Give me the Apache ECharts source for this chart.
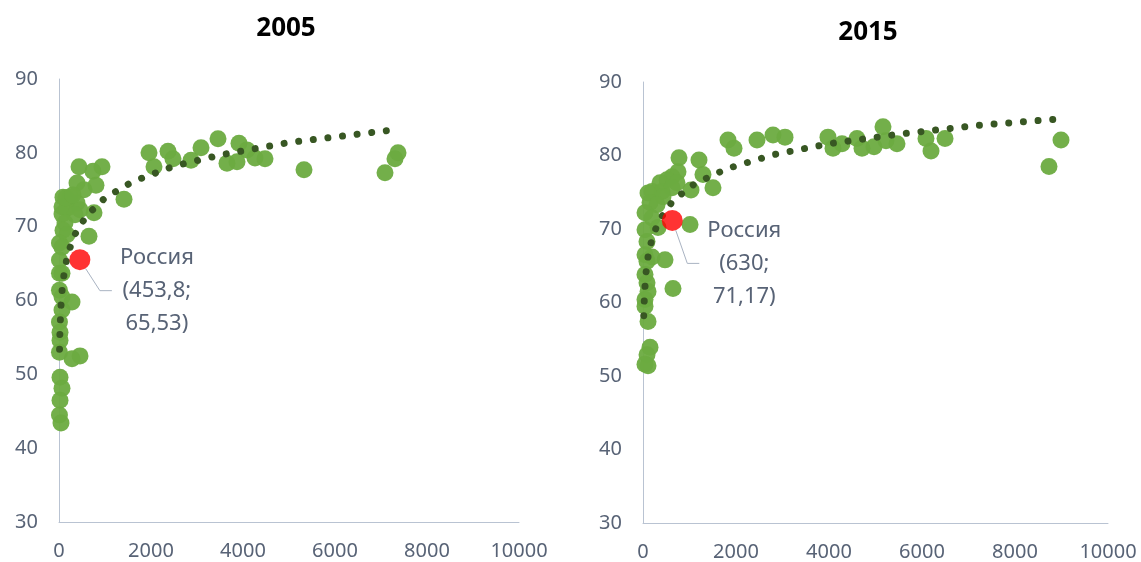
<!DOCTYPE html>
<html>
<head>
<meta charset="utf-8">
<script src="https://cdn.jsdelivr.net/npm/echarts@6/dist/echarts.min.js"></script>
<style>
  html, body { margin: 0; padding: 0; background: #fff; }
  #chart { width: 1141px; height: 562px; }
</style>
</head>
<body>
<div id="chart"></div>
<script>
// 2005: ВВП на душу (x) и ожидаемая продолжительность жизни (y)
const gdp2005 = [3457, 1957, 2370, 2478, 2065, 3087, 2870, 3652, 3913, 4087, 3870, 4261, 4478, 5326,
  1413, 435, 739, 935, 804, 391, 543, 761, 652, 283, 457, 283, 7087, 7304, 7370,
  87, 239, 65, 65, 174, 391, 457, 348, 130, 87, 174, 10, 65, 10, 65, 10, 10, 65, 65,
  10, 22, 22, 10, 22, 65, 22, 10, 43, 150, 300]
const life2005 = [81.9, 80.0, 80.2, 79.2, 78.1, 80.7, 79.0, 78.6, 81.3, 80.4, 78.8, 79.3, 79.2, 77.7,
  73.7, 78.1, 77.5, 78.1, 75.6, 75.9, 75.0, 71.9, 68.7, 59.8, 52.5, 52.1, 77.3, 79.2, 80.0,
  74.0, 74.0, 72.7, 71.7, 72.5, 73.2, 72.3, 71.6, 70.5, 69.5, 68.9, 67.8, 67.2, 65.5, 63.7, 63.7, 61.4, 60.5, 58.7,
  57.1, 55.7, 54.6, 53.0, 49.6, 48.1, 46.5, 44.5, 43.4, 73.9, 74.3]
const russia2005 = [453.8, 65.53]
const trendGdp2005 = [12, 20, 40, 70, 120, 200, 350, 600, 1000, 1600, 2500, 3500, 5000, 7130]
const trendLife2005 = [53.4, 55.8, 59.0, 61.6, 64.1, 66.5, 69.0, 71.5, 73.9, 76.1, 78.2, 79.7, 81.4, 83.0]

// 2015
const gdp2015 = [1828, 1957, 2452, 2796, 3054, 3978, 4086, 4280, 4602, 4710, 4968, 5161, 5226, 5462,
  6086, 6194, 6495, 8731, 8989, 774, 1204, 1290, 1505, 1032, 1011, 473, 645,
  753, 624, 516, 366, 731, 194, 409, 108, 624, 430, 151, 301, 43, 194, 323, 43, 86, 43, 194,
  86, 43, 86, 108, 43, 43, 108, 151, 86, 43, 108]
const life2015 = [82.1, 81.0, 82.1, 82.8, 82.5, 82.5, 81.0, 81.6, 82.3, 81.0, 81.2, 83.9, 82.0, 81.6,
  82.3, 80.6, 82.3, 78.5, 82.1, 79.7, 79.4, 77.4, 75.6, 75.3, 70.6, 65.8, 61.9,
  77.8, 77.1, 76.7, 76.3, 76.3, 75.1, 75.1, 74.9, 75.6, 74.4, 73.6, 73.3, 72.2, 71.5, 70.2, 69.9, 68.3, 66.5, 66.2,
  65.6, 63.8, 62.7, 61.5, 60.4, 59.5, 57.4, 53.9, 52.9, 51.6, 51.4]
const russia2015 = [630, 71.17]
const trendGdp2015 = [16, 30, 60, 110, 200, 350, 650, 1100, 1800, 2800, 4000, 5500, 7200, 9000]
const trendLife2015 = [58.2, 60.8, 63.8, 66.3, 68.9, 71.2, 73.9, 76.1, 78.2, 80.1, 81.6, 82.9, 84.1, 85.0]

const years = ['2005', '2015']
const xMin = 0, xMax = 10000, xStep = 2000
const yMin = 30, yMax = 90, yStep = 10

const labelColor = '#586376'
const axisColor = '#b9c3d2'
const font = 'Noto Sans'

function pairs (xs, ys) {
  return xs.map(function (x, i) { return [x, ys[i]] })
}
function num (v) {
  return String(v).replace('.', ',')
}

function xAxis (idx) {
  return {
    gridIndex: idx, type: 'value', min: xMin, max: xMax, interval: xStep,
    axisLine: { show: true, lineStyle: { color: axisColor, width: 1 } },
    axisTick: { show: false },
    splitLine: { show: false },
    axisLabel: {
      color: labelColor, fontSize: 20, fontFamily: font, margin: 19,
      formatter: function (v) { return String(v) }
    }
  }
}
function yAxis (idx) {
  return {
    gridIndex: idx, type: 'value', min: yMin, max: yMax, interval: yStep,
    axisLine: { show: true, lineStyle: { color: axisColor, width: 1 } },
    axisTick: { show: false },
    splitLine: { show: false },
    axisLabel: { color: labelColor, fontSize: 20, fontFamily: font, margin: 21 }
  }
}

function seriesFor (idx, xs, ys, tx, ty, ru, dx, dy) {
  return [{
    type: 'scatter',
    xAxisIndex: idx, yAxisIndex: idx,
    data: pairs(xs, ys),
    symbolSize: 17,
    itemStyle: { color: '#6cab40', opacity: 0.95 },
    z: 2
  }, {
    type: 'line',
    xAxisIndex: idx, yAxisIndex: idx,
    data: pairs(tx, ty),
    showSymbol: false,
    smooth: false,
    lineStyle: { color: '#385723', width: 7, type: [0.01, 14.7], cap: 'round' },
    z: 3
  }, {
    type: 'scatter',
    xAxisIndex: idx, yAxisIndex: idx,
    data: [ru],
    symbolSize: 21,
    itemStyle: { color: '#ff0000' },
    label: {
      show: true,
      position: 'inside',
      formatter: 'Россия\n(' + num(ru[0]) + ';\n' + num(ru[1]) + ')',
      color: labelColor,
      opacity: 1,
      textBorderWidth: 0,
      fontSize: 22,
      fontFamily: font,
      lineHeight: 33,
      align: 'center',
      padding: [0, 0, 0, 8]
    },
    labelLayout: { dx: dx, dy: dy },
    labelLine: { show: true, length2: 12, lineStyle: { color: '#a9b3c2', width: 1 } },
    z: 4
  }]
}

let chart = echarts.init(document.getElementById('chart'), null, { renderer: 'canvas' })
let option = {
  backgroundColor: '#ffffff',
  animation: false,
  title: [{
    text: years[0], left: 286, top: 16, textAlign: 'center', padding: 0,
    textStyle: { fontSize: 26, fontWeight: 'bold', color: '#000', fontFamily: font }
  }, {
    text: years[1], left: 868, top: 20, textAlign: 'center', padding: 0,
    textStyle: { fontSize: 26, fontWeight: 'bold', color: '#000', fontFamily: font }
  }],
  grid: [
    { left: 59, top: 79, width: 460, height: 443 },
    { left: 643, top: 82, width: 465, height: 442 }
  ],
  xAxis: [xAxis(0), xAxis(1)],
  yAxis: [yAxis(0), yAxis(1)],
  series: seriesFor(0, gdp2005, life2005, trendGdp2005, trendLife2005, russia2005, 73, 31)
    .concat(seriesFor(1, gdp2015, life2015, trendGdp2015, trendLife2015, russia2015, 68, 43))
}
chart.setOption(option)
</script>
</body>
</html>
